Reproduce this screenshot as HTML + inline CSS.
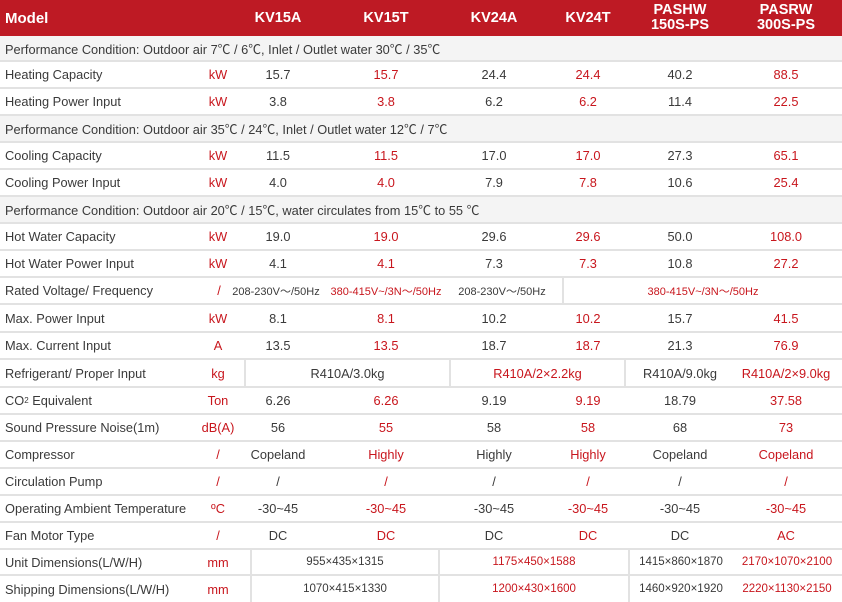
<!DOCTYPE html>
<html><head><meta charset="utf-8"><style>
*{margin:0;padding:0;box-sizing:border-box}
body{width:842px;height:602px;background:#fff;font-family:"Liberation Sans","Noto Sans CJK SC",sans-serif;color:#3a3a3a;position:relative;overflow:hidden;font-size:12.8px}
.r{position:absolute;left:0;width:842px;border-bottom:2px solid #e2e2e2}
.r span{position:absolute;top:0;height:100%;display:flex;align-items:center;justify-content:center;white-space:nowrap}
.r span.l{left:5px;justify-content:flex-start}
.g{background:#f4f4f4}
.red{color:#c8161d}
.u{left:196px;width:44px;color:#c8161d}
.c1{left:240px;width:76px}.c2{left:330px;width:112px;color:#c8161d}.c3{left:442px;width:104px}
.c4{left:546px;width:84px;color:#c8161d}.c5{left:630px;width:100px}.c6{left:730px;width:112px;color:#c8161d}
.hd{background:#be1a24;color:#fff;font-weight:bold;font-size:14.5px;border:none}
.hd span{line-height:15px;text-align:center}
.sep{border-left:2px solid #e2e2e2}
.sm{font-size:11.5px}
.xs{font-size:11px}
</style></head><body>
<div class="r hd" style="top:0;height:36px"><span class="l" style="font-size:15px">Model</span><span style="left:240px;width:76px">KV15A</span><span style="left:330px;width:112px">KV15T</span><span style="left:442px;width:104px">KV24A</span><span style="left:546px;width:84px">KV24T</span><span style="left:630px;width:100px;flex-direction:column">PASHW<br>150S-PS</span><span style="left:730px;width:112px;flex-direction:column">PASRW<br>300S-PS</span></div>
<div class="r g" style="top:36px;height:26px"><span class="l">Performance Condition: Outdoor air 7℃ / 6℃, Inlet / Outlet water 30℃ / 35℃</span></div>
<div class="r" style="top:62px;height:27px"><span class="l">Heating Capacity</span><span class="u">kW</span><span class="c1">15.7</span><span class="c2">15.7</span><span class="c3">24.4</span><span class="c4">24.4</span><span class="c5">40.2</span><span class="c6">88.5</span></div>
<div class="r" style="top:89px;height:27px"><span class="l">Heating Power Input</span><span class="u">kW</span><span class="c1">3.8</span><span class="c2">3.8</span><span class="c3">6.2</span><span class="c4">6.2</span><span class="c5">11.4</span><span class="c6">22.5</span></div>
<div class="r g" style="top:116px;height:27px"><span class="l">Performance Condition: Outdoor air 35℃ / 24℃, Inlet / Outlet water 12℃ / 7℃</span></div>
<div class="r" style="top:143px;height:27px"><span class="l">Cooling Capacity</span><span class="u">kW</span><span class="c1">11.5</span><span class="c2">11.5</span><span class="c3">17.0</span><span class="c4">17.0</span><span class="c5">27.3</span><span class="c6">65.1</span></div>
<div class="r" style="top:170px;height:27px"><span class="l">Cooling Power Input</span><span class="u">kW</span><span class="c1">4.0</span><span class="c2">4.0</span><span class="c3">7.9</span><span class="c4">7.8</span><span class="c5">10.6</span><span class="c6">25.4</span></div>
<div class="r g" style="top:197px;height:27px"><span class="l">Performance Condition: Outdoor air 20℃ / 15℃, water circulates from 15℃ to 55 ℃</span></div>
<div class="r" style="top:224px;height:27px"><span class="l">Hot Water Capacity</span><span class="u">kW</span><span class="c1">19.0</span><span class="c2">19.0</span><span class="c3">29.6</span><span class="c4">29.6</span><span class="c5">50.0</span><span class="c6">108.0</span></div>
<div class="r" style="top:251px;height:27px"><span class="l">Hot Water Power Input</span><span class="u">kW</span><span class="c1">4.1</span><span class="c2">4.1</span><span class="c3">7.3</span><span class="c4">7.3</span><span class="c5">10.8</span><span class="c6">27.2</span></div>
<div class="r" style="top:278px;height:27px"><span class="l">Rated Voltage/ Frequency</span><span class="u" style="left:212px;width:14px">/</span><span class="xs" style="left:228px;width:96px">208-230V～/50Hz</span><span class="xs red" style="left:326px;width:120px">380-415V~/3N～/50Hz</span><span class="xs" style="left:452px;width:100px">208-230V～/50Hz</span><span class="xs red sep" style="left:562px;width:280px">380-415V~/3N～/50Hz</span></div>
<div class="r" style="top:305px;height:28px"><span class="l">Max. Power Input</span><span class="u">kW</span><span class="c1">8.1</span><span class="c2">8.1</span><span class="c3">10.2</span><span class="c4">10.2</span><span class="c5">15.7</span><span class="c6">41.5</span></div>
<div class="r" style="top:333px;height:27px"><span class="l">Max. Current Input</span><span class="u">A</span><span class="c1">13.5</span><span class="c2">13.5</span><span class="c3">18.7</span><span class="c4">18.7</span><span class="c5">21.3</span><span class="c6">76.9</span></div>
<div class="r" style="top:360px;height:28px"><span class="l">Refrigerant/ Proper Input</span><span class="u">kg</span><span class="sep" style="left:244px;width:205px">R410A/3.0kg</span><span class="red sep" style="left:449px;width:175px">R410A/2×2.2kg</span><span class="sep" style="left:624px;width:110px">R410A/9.0kg</span><span class="red" style="left:730px;width:112px">R410A/2×9.0kg</span></div>
<div class="r" style="top:388px;height:27px"><span class="l">CO<sub style="font-size:8px">2</sub>&nbsp;Equivalent</span><span class="u">Ton</span><span class="c1">6.26</span><span class="c2">6.26</span><span class="c3">9.19</span><span class="c4">9.19</span><span class="c5">18.79</span><span class="c6">37.58</span></div>
<div class="r" style="top:415px;height:27px"><span class="l">Sound Pressure Noise(1m)</span><span class="u">dB(A)</span><span class="c1">56</span><span class="c2">55</span><span class="c3">58</span><span class="c4">58</span><span class="c5">68</span><span class="c6">73</span></div>
<div class="r" style="top:442px;height:27px"><span class="l">Compressor</span><span class="u">/</span><span class="c1">Copeland</span><span class="c2">Highly</span><span class="c3">Highly</span><span class="c4">Highly</span><span class="c5">Copeland</span><span class="c6">Copeland</span></div>
<div class="r" style="top:469px;height:27px"><span class="l">Circulation Pump</span><span class="u">/</span><span class="c1">/</span><span class="c2">/</span><span class="c3">/</span><span class="c4">/</span><span class="c5">/</span><span class="c6">/</span></div>
<div class="r" style="top:496px;height:27px"><span class="l">Operating Ambient Temperature</span><span class="u">ºC</span><span class="c1">-30~45</span><span class="c2">-30~45</span><span class="c3">-30~45</span><span class="c4">-30~45</span><span class="c5">-30~45</span><span class="c6">-30~45</span></div>
<div class="r" style="top:523px;height:27px"><span class="l">Fan Motor Type</span><span class="u">/</span><span class="c1">DC</span><span class="c2">DC</span><span class="c3">DC</span><span class="c4">DC</span><span class="c5">DC</span><span class="c6">AC</span></div>
<div class="r" style="top:550px;height:26px"><span class="l">Unit Dimensions(L/W/H)</span><span class="u">mm</span><span class="sm sep" style="left:250px;width:188px">955×435×1315</span><span class="sm red sep" style="left:438px;width:190px">1175×450×1588</span><span class="sm sep" style="left:628px;width:104px">1415×860×1870</span><span class="sm red" style="left:732px;width:110px">2170×1070×2100</span></div>
<div class="r" style="top:576px;height:26px;border:none"><span class="l">Shipping Dimensions(L/W/H)</span><span class="u">mm</span><span class="sm sep" style="left:250px;width:188px">1070×415×1330</span><span class="sm red sep" style="left:438px;width:190px">1200×430×1600</span><span class="sm sep" style="left:628px;width:104px">1460×920×1920</span><span class="sm red" style="left:732px;width:110px">2220×1130×2150</span></div>
</body></html>
